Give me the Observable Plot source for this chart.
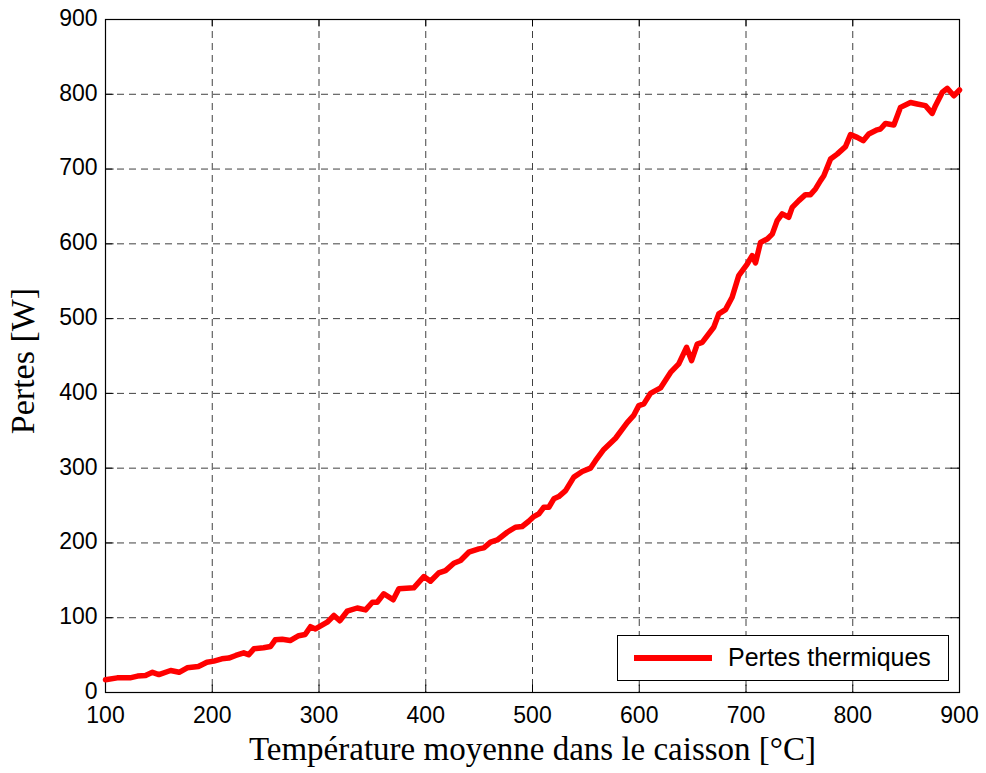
<!DOCTYPE html>
<html>
<head>
<meta charset="utf-8">
<script src="https://cdn.jsdelivr.net/npm/d3@7"></script>
<script src="https://cdn.jsdelivr.net/npm/@observablehq/plot@0.6"></script>
<style>
  html, body { margin: 0; padding: 0; background: #fff; }
  #wrap { position: relative; width: 986px; height: 773px; }
  #legend { position: absolute; left: 617px; top: 635px; width: 332px; height: 46px;
    border: 1px solid #000; background: #fff; box-sizing: border-box;
    font-family: "Liberation Sans", Arial, sans-serif; font-size: 25px; line-height: 1; }
  #legend .sw { position: absolute; left: 16px; top: 19px; width: 78px; height: 5.5px; background: #ff0000; }
  #legend .tx { position: absolute; left: 110px; top: 9px; white-space: nowrap; }
</style>
</head>
<body>
<div id="wrap"></div>
<script>
const temperature = [100,111,123,130,137.5,144,150,161,169,176.5,187,195,201.5,209,215.5,222,229.5,234,239,248,254.6,259,265.5,273,281,287,292,296.7,307.7,314,319.5,326.4,335.8,343.6,350,354.5,360.7,369.5,374.8,388.8,398.2,404.4,412.2,418.5,426.3,432.6,440.3,449.7,454.4,460.7,467,476.3,484,490.3,496.5,501.2,506,510.6,515.3,520,524.6,531,538.7,546.6,554.3,559,566.8,577.8,588.7,595,599.6,604.3,610.5,619.9,629.3,637,644.3,649,654.3,659,669.8,674.5,680.8,687,693.2,701.1,705.8,708.9,713.6,719.9,724.6,729.2,733.9,740,743.3,749.5,755.7,760.4,765.1,769.8,772.9,779.2,785.4,793.2,797.9,804.2,809.8,815,822.9,826,830.7,838.5,844.7,854.1,860.4,868.1,874.4,877.5,883.8,888.5,894.7,900];
const pertes = [17,19.6,19.6,22,22.7,27,24,29.4,27,33,34.8,40.5,42,45,46,49.5,53,50.4,58.4,59.8,61.5,70.4,71.3,69.5,76,77.5,88,85,94,103,96,108.7,113,110.5,120.7,120.7,132,124,138.6,140,155,148.8,160,163,172.9,176.5,187.6,192,193.4,201,204,214.3,221,222,229,235.3,239,247.7,247.7,259,262,270,288,295.5,300,310,325,340,361,371,383.7,386,400,407.3,428,439.4,461.6,443.9,466,468.3,488.4,506.3,512,528.5,557.5,573,584.2,574.5,602,606.5,613,631,640,635.5,648.8,657.8,665.8,665.8,673.4,684.5,691,713.5,720,730,746,742.4,738,747,752.5,753.6,761,759,782.5,789,787,784.8,774.5,784.8,802.5,808,798,805.7];
const xTicks = [100,200,300,400,500,600,700,800,900];
const yTicks = [0,100,200,300,400,500,600,700,800,900];
const seriesLabel = "Pertes thermiques";
const xLabel = "Température moyenne dans le caisson [°C]";
const yLabel = "Pertes [W]";

const data = temperature.map((t, i) => ({t, p: pertes[i]}));
const innerX = xTicks.slice(1, -1);
const innerY = yTicks.slice(1, -1);
const serif = "'Liberation Serif', 'Times New Roman', serif";

const chart = Plot.plot({
  width: 986,
  height: 773,
  marginLeft: 105,
  marginRight: 27,
  marginTop: 19,
  marginBottom: 81,
  style: {fontFamily: "'Liberation Sans', Arial, sans-serif", fontSize: "23px", color: "#000", background: "#fff"},
  x: {domain: [100, 900], ticks: xTicks},
  y: {domain: [0, 900], ticks: yTicks},
  marks: [
    Plot.ruleX(innerX, {stroke: "#000", strokeOpacity: 0.75, strokeDasharray: "7,5"}),
    Plot.ruleY(innerY, {stroke: "#000", strokeOpacity: 0.75, strokeDasharray: "7,5"}),
    Plot.ruleX(xTicks, {y1: 0, y2: 10, stroke: "#000"}),
    Plot.ruleX(xTicks, {y1: 890, y2: 900, stroke: "#000"}),
    Plot.ruleY(yTicks, {x1: 100, x2: 108, stroke: "#000"}),
    Plot.ruleY(yTicks, {x1: 892, x2: 900, stroke: "#000"}),
    Plot.frame({stroke: "#000", strokeWidth: 1.2}),
    Plot.line(data, {x: "t", y: "p", stroke: "#ff0000", strokeWidth: 5.5, strokeLinejoin: "round", strokeLinecap: "round"}),
    Plot.axisX({ticks: xTicks, tickSize: 0, tickPadding: 14, fontSize: 23, label: null}),
    Plot.axisY({ticks: yTicks, tickSize: 0, tickPadding: 8, dy: -1, fontSize: 23, label: null}),
    Plot.text([xLabel], {frameAnchor: "bottom", textAnchor: "middle", dy: 67, fontFamily: serif, fontSize: 33, fill: "#000"}),
    Plot.text([yLabel], {frameAnchor: "left", textAnchor: "middle", dx: -82, dy: 5, rotate: -90, fontFamily: serif, fontSize: 34, fill: "#000"})
  ]
});

const wrap = document.getElementById("wrap");
wrap.appendChild(chart);
const leg = document.createElement("div");
leg.id = "legend";
leg.innerHTML = '<div class="sw"></div><div class="tx"></div>';
leg.querySelector(".tx").textContent = seriesLabel;
wrap.appendChild(leg);
</script>
</body>
</html>
